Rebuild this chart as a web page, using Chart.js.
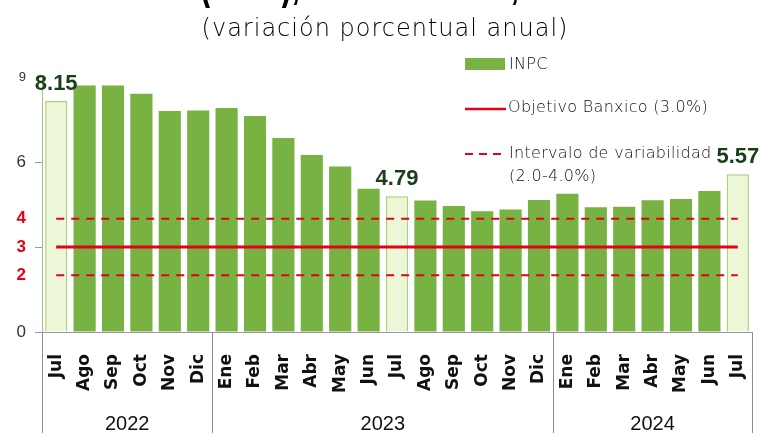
<!DOCTYPE html>
<html>
<head>
<meta charset="utf-8">
<script src="https://cdn.jsdelivr.net/npm/chart.js@4.4.1/dist/chart.umd.min.js"></script>
<style>
    html, body { margin: 0; padding: 0; background: #fff; }
    #wrap { width: 761px; height: 433px; }
</style>
</head>
<body>
<div id="wrap"><canvas id="inpcChart" width="761" height="433"></canvas></div>
<script>
// datos: INPC, variacion porcentual anual
const months = ['Jul', 'Ago', 'Sep', 'Oct', 'Nov', 'Dic',
    'Ene', 'Feb', 'Mar', 'Abr', 'May', 'Jun', 'Jul', 'Ago', 'Sep', 'Oct', 'Nov', 'Dic',
    'Ene', 'Feb', 'Mar', 'Abr', 'May', 'Jun', 'Jul'];
const inpc = [8.15, 8.70, 8.70, 8.41, 7.80, 7.82,
    7.91, 7.62, 6.85, 6.25, 5.84, 5.06, 4.79, 4.64, 4.45, 4.26, 4.32, 4.66,
    4.88, 4.40, 4.42, 4.65, 4.69, 4.98, 5.57];
const highlighted = [0, 12, 24];
const years = ['2022', '2023', '2024'];
const yearFirst = [0, 6, 18];
const yearLast = [5, 17, 24];
const yTickValues = [0, 2, 3, 4, 6, 9];
const redTicks = [2, 3, 4];
const objetivo = 3.0;
const intervalo = [2.0, 4.0];

const GREEN = '#77b243';
const LIGHT = '#ecf7d7';
const LIGHT_BORDER = '#a9d27a';
const RED = '#e2001a';
const LABEL_GREEN = '#183f17';
const TEXT_FONT = '"DejaVu Sans"';

// lineas de referencia constantes, una por mes
function flatLine(v) {
    return months.map(() => v);
}

function tickVal(ctx) {
    return ctx.tick ? ctx.tick.value : null;
}

const decorPlugin = {
    id: 'decor',
    afterDatasetsDraw(chart) {
        const ctx = chart.ctx;
        const meta = chart.getDatasetMeta(0);
        ctx.save();
        ctx.fillStyle = LABEL_GREEN;
        ctx.font = 'bold 22px "Liberation Sans"';
        ctx.textAlign = 'center';
        ctx.textBaseline = 'bottom';
        highlighted.forEach(i => {
            const bar = meta.data[i];
            ctx.fillText(inpc[i].toFixed(2), bar.x, bar.y - 6);
        });
        ctx.restore();
    },
    afterDraw(chart) {
        const ctx = chart.ctx;
        const x = chart.scales.x;
        const area = chart.chartArea;
        const half = (x.getPixelForValue(1) - x.getPixelForValue(0)) / 2;

        // titulo cortado arriba (solo se ven los descendentes)
        ctx.save();
        ctx.fillStyle = '#000';
        ctx.font = 'bold 30px "Liberation Sans"';
        ctx.textBaseline = 'alphabetic';
        ctx.scale(1, 1.7);
        ctx.textAlign = 'left';
        ctx.fillText('(INPC),', 200, -1.6);
        ctx.textAlign = 'right';
        ctx.fillText('2022 - 2024,', 519, -1.6);
        ctx.restore();

        ctx.save();
        // subtitulo
        ctx.fillStyle = '#000';
        ctx.font = '200 24px ' + TEXT_FONT;
        ctx.letterSpacing = '1px';
        ctx.textAlign = 'center';
        ctx.textBaseline = 'middle';
        ctx.fillText('(variación porcentual anual)', 385, 30);

        // leyenda
        ctx.textAlign = 'left';
        ctx.font = '200 16px ' + TEXT_FONT;
        ctx.letterSpacing = '0.3px';
        ctx.fillStyle = GREEN;
        ctx.fillRect(465, 58, 40, 12);
        ctx.fillStyle = '#111';
        ctx.fillText('INPC', 509, 65);

        ctx.strokeStyle = RED;
        ctx.lineWidth = 2.5;
        ctx.beginPath();
        ctx.moveTo(465, 109);
        ctx.lineTo(506, 109);
        ctx.stroke();
        ctx.fillText('Objetivo Banxico (3.0%)', 508, 108);

        ctx.lineWidth = 2;
        ctx.setLineDash([8, 6]);
        ctx.beginPath();
        ctx.moveTo(465, 154);
        ctx.lineTo(502, 154);
        ctx.stroke();
        ctx.setLineDash([]);
        ctx.fillText('Intervalo de variabilidad', 509, 154);
        ctx.fillText('(2.0-4.0%)', 509, 177);
        ctx.letterSpacing = '0px';

        // separadores y años
        ctx.strokeStyle = '#8c8c8c';
        ctx.lineWidth = 1;
        const seps = [x.getPixelForValue(0) - half];
        yearLast.forEach(i => seps.push(x.getPixelForValue(i) + half));
        seps.forEach(px => {
            ctx.beginPath();
            ctx.moveTo(Math.round(px) + 0.5, area.bottom);
            ctx.lineTo(Math.round(px) + 0.5, chart.height);
            ctx.stroke();
        });

        ctx.fillStyle = '#111';
        ctx.font = '20px "Liberation Sans"';
        ctx.textAlign = 'center';
        ctx.textBaseline = 'middle';
        years.forEach((yr, k) => {
            const cx = (x.getPixelForValue(yearFirst[k]) + x.getPixelForValue(yearLast[k])) / 2;
            ctx.fillText(yr, cx, 424);
        });

        ctx.restore();
    }
};

new Chart(document.getElementById('inpcChart'), {
    type: 'bar',
    data: {
        labels: months,
        datasets: [
            {
                label: 'INPC',
                data: inpc,
                order: 2,
                backgroundColor: ctx => highlighted.includes(ctx.dataIndex) ? LIGHT : GREEN,
                borderColor: ctx => highlighted.includes(ctx.dataIndex) ? LIGHT_BORDER : GREEN,
                borderWidth: ctx => highlighted.includes(ctx.dataIndex) ? 1.5 : 0,
                barPercentage: 0.78,
                categoryPercentage: 1
            },
            {
                type: 'line',
                label: 'Objetivo Banxico (3.0%)',
                data: flatLine(objetivo),
                order: 1,
                borderColor: RED,
                borderWidth: 3,
                pointRadius: 0
            },
            {
                type: 'line',
                label: 'Intervalo superior',
                data: flatLine(intervalo[1]),
                order: 1,
                borderColor: RED,
                borderWidth: 2,
                borderDash: [8, 7],
                pointRadius: 0
            },
            {
                type: 'line',
                label: 'Intervalo inferior',
                data: flatLine(intervalo[0]),
                order: 1,
                borderColor: RED,
                borderWidth: 2,
                borderDash: [8, 7],
                pointRadius: 0
            }
        ]
    },
    options: {
        responsive: false,
        animation: false,
        layout: { padding: { top: 77, right: 9, left: 0, bottom: 0 } },
        plugins: {
            legend: { display: false },
            title: { display: false },
            tooltip: { enabled: false }
        },
        scales: {
            x: {
                grid: { display: false },
                border: { color: '#9a9a9a' },
                ticks: {
                    autoSkip: false,
                    maxRotation: 90,
                    minRotation: 90,
                    padding: 14,
                    color: '#111',
                    font: { family: 'DejaVu Sans', weight: 'bold', size: 17 }
                },
                afterFit: s => {
                    s.height = 101;
                    s.paddingLeft = 0;
                    s.paddingRight = 0;
                }
            },
            y: {
                min: 0,
                max: 9,
                afterBuildTicks: s => { s.ticks = yTickValues.map(v => ({ value: v })); },
                afterFit: s => { s.width = 42; },
                border: { color: '#a3bf8c' },
                grid: {
                    drawOnChartArea: false,
                    tickLength: 7,
                    color: ctx => [0, 3, 6].includes(tickVal(ctx)) ? '#999' : 'rgba(0,0,0,0)'
                },
                ticks: {
                    padding: 9,
                    color: ctx => redTicks.includes(tickVal(ctx)) ? RED : '#333',
                    font: ctx => {
                        const v = tickVal(ctx);
                        if (redTicks.includes(v)) return { family: 'Liberation Sans', weight: 'bold', size: 17 };
                        if (v === 9) return { family: 'Liberation Sans', size: 13 };
                        return { family: 'Liberation Sans', size: 17 };
                    },
                    callback: v => v
                }
            }
        }
    },
    plugins: [decorPlugin]
});
</script>
</body>
</html>
